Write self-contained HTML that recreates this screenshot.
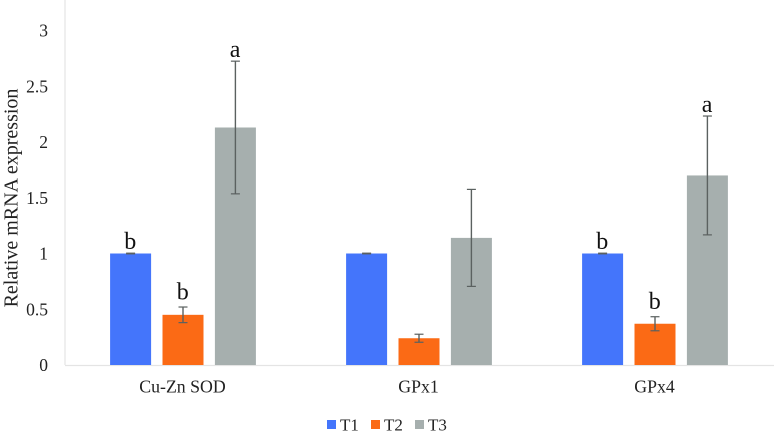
<!DOCTYPE html>
<html>
<head>
<meta charset="utf-8">
<style>
html,body{margin:0;padding:0;background:#fff;width:774px;height:436px;overflow:hidden}
svg{display:block;font-family:"Liberation Serif",serif;fill:#222}
</style>
</head>
<body>
<svg id="chart" width="774" height="436" viewBox="0 0 774 436" xmlns="http://www.w3.org/2000/svg">
<text transform="translate(17.5,198) rotate(-90)" text-anchor="middle" font-size="20">Relative mRNA expression</text>
</svg>
<script>
const categories = ["Cu-Zn SOD", "GPx1", "GPx4"];
const seriesNames = ["T1", "T2", "T3"];
const seriesColors = ["#4475fb", "#fb6a15", "#a6afae"];
const t1Values = [1, 1, 1];
const t2Values = [0.45, 0.24, 0.37];
const t3Values = [2.13, 1.14, 1.70];
const t1Errors = [0.003, 0.003, 0.003];
const t2Errors = [0.07, 0.036, 0.063];
const t3Errors = [0.595, 0.435, 0.533];
const t1Letters = ["b", "", "b"];
const t2Letters = ["b", "", "b"];
const t3Letters = ["a", "", "a"];
const yTicks = [0, 0.5, 1, 1.5, 2, 2.5, 3];

const svg = document.getElementById('chart');
const NS = 'http://www.w3.org/2000/svg';
const y = v => 365 - v * 111.5;
const groupX = i => 183 + i * 236;
const barX = (i, s) => groupX(i) + (s - 1) * 52.4;
const barW = 41;
const letterGap = s => (s === 1 ? 7.5 : s === 0 ? 4 : 4);

function add(tag, attrs, text) {
  const el = document.createElementNS(NS, tag);
  for (const k in attrs) el.setAttribute(k, attrs[k]);
  if (text !== undefined) el.textContent = text;
  svg.appendChild(el);
  return el;
}

const axisY = add('line', {x1: 65, x2: 65, y1: 0, y2: y(0), stroke: '#e4e4e4', 'stroke-width': 1.2});


const axisX = add('line', {x1: 65, x2: 774, y1: y(0) + 0.5, y2: y(0) + 0.5, stroke: '#e4e4e4', 'stroke-width': 1.2});



yTicks.forEach(t => {
  const el = add('text', {x: 48, y: y(t) + 6, 'text-anchor': 'end', 'font-size': 17.5}, String(t));
  
  
});

categories.forEach((c, i) => {
  const el = add('text', {x: groupX(i) - 0.5, y: 392.5, 'text-anchor': 'middle', 'font-size': 17.8}, c);
  
  
});

const allValues = [t1Values, t2Values, t3Values];
const allErrors = [t1Errors, t2Errors, t3Errors];
const allLetters = [t1Letters, t2Letters, t3Letters];

allValues.forEach((vals, s) => {
  vals.forEach((v, i) => {
    const cx = barX(i, s);
    const bar = add('rect', {x: cx - barW / 2, y: y(v), width: barW, height: y(0) - y(v), fill: seriesColors[s]});
    
    
    const e = allErrors[s][i];
    const top = y(v + e), bottom = y(v - e);
    const stem = add('line', {x1: cx, x2: cx, y1: top, y2: bottom, stroke: '#5b6160', 'stroke-width': 1.4});
    
    
    const capTop = add('line', {x1: cx - 4.5, x2: cx + 4.5, y1: top, y2: top, stroke: '#5b6160', 'stroke-width': 1.2});
    
    
    const capBottom = add('line', {x1: cx - 4.5, x2: cx + 4.5, y1: bottom, y2: bottom, stroke: '#5b6160', 'stroke-width': 1.2});
    
    
    const letter = allLetters[s][i];
    if (letter) {
      const lab = add('text', {x: cx - 0.3, y: top - letterGap(s), 'text-anchor': 'middle', 'font-size': 24, fill: '#111'}, letter);
      
      
    }
  });
});

seriesNames.forEach((n, s) => {
  const lx = 327 + s * 44;
  const sw = add('rect', {x: lx, y: 420, width: 9, height: 9, fill: seriesColors[s]});
  
  
  const tx = add('text', {x: lx + 13, y: 430.5, 'font-size': 17}, n);
  
  
});
</script>
</body>
</html>
